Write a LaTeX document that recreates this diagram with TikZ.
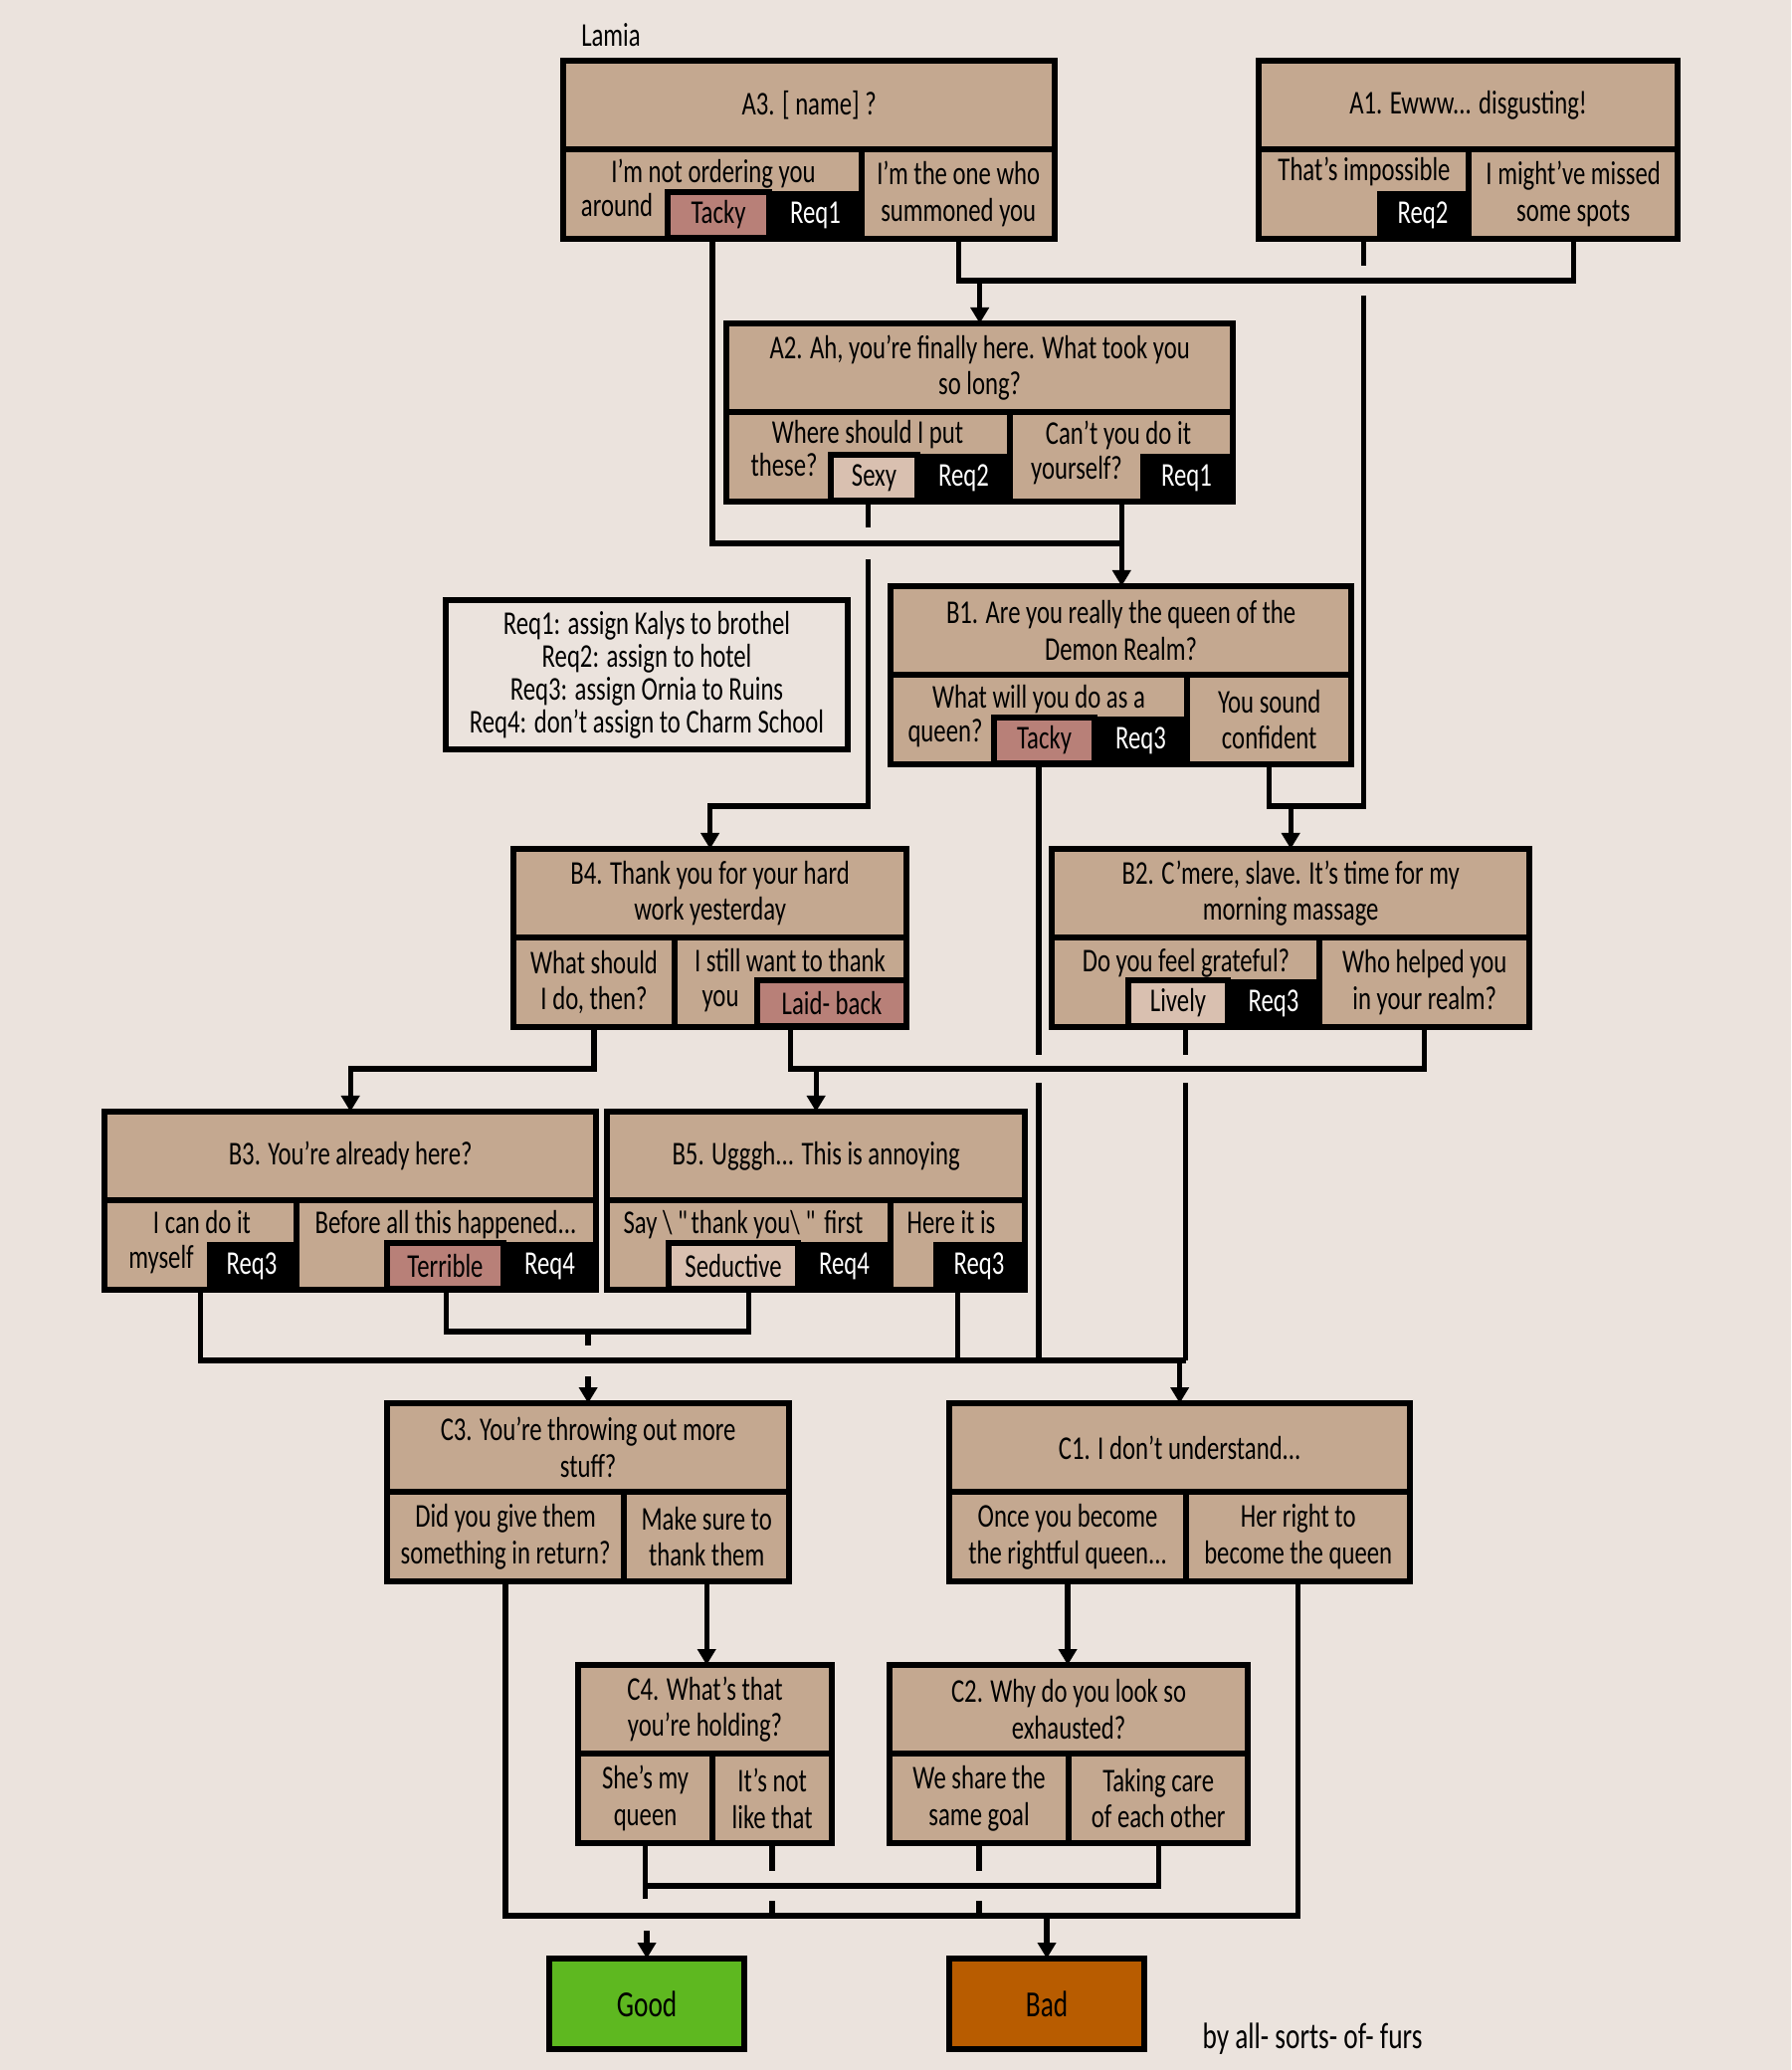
\documentclass[tikz,border=0pt]{standalone}
\usepackage{fontspec}
\setmainfont{Carlito}[FakeStretch=0.74]
\usepackage{tikz}
\usetikzlibrary{arrows.meta, positioning}
\definecolor{bg}{RGB}{235,227,221}
\definecolor{card}{RGB}{196,168,144}
\definecolor{rose}{RGB}{184,128,120}
\definecolor{blush}{RGB}{217,192,176}
\definecolor{goodgreen}{RGB}{94,184,32}
\definecolor{badorange}{RGB}{184,92,0}

\begin{document}
\begin{tikzpicture}[x=0.01cm, y=-0.01cm,
        font=\fontsize{9.5pt}{10.4pt}\selectfont,
        question/.style={draw, fill=card, line width=1.7pt, outer sep=0pt, inner sep=0pt, anchor=north west, align=center, minimum height=0.89cm},
        answer/.style={draw, fill=card, line width=1.7pt, outer sep=0pt, inner sep=0pt, align=center, minimum height=0.90cm},
        mood/.style={draw, line width=1.7pt, outer sep=0pt, inner sep=0pt, minimum height=0.46cm},
        req/.style={fill=black, text=white, outer sep=0pt, inner sep=0pt, minimum height=0.48cm},
        words/.style={inner sep=0pt, anchor=base},
        ending/.style={draw, line width=1.7pt, outer sep=0pt, anchor=north west, minimum width=1.96cm, minimum height=0.91cm, font=\fontsize{10.5pt}{11pt}\selectfont},
        legend/.style={draw, fill=bg, line width=1.7pt, outer sep=0pt, inner sep=0pt, align=center, minimum width=4.04cm, minimum height=1.50cm, font=\fontsize{9.5pt}{9.4pt}\selectfont},
        link/.style={line width=1.5pt},
        arrow/.style={link, -{Triangle[length=0.16cm, width=0.18cm]}}
    ]
        \path[use as bounding box, fill=bg] (0,0) rectangle (1800,2080);

        \node[words] (title) at (614,47) {Lamia};

        % A row
        \node[question, minimum width=4.94cm] (a3) at (566,61) {A3. [\,name]\,?};
        \node[answer, minimum width=3.00cm, below right=0pt and 0pt of a3.south west] (a3o1) {};
        \node[answer, minimum width=1.94cm, right=0pt of a3o1] (a3o2) {I'm the one who\\summoned you};
        \node[mood, fill=rose, minimum width=1.02cm] (a3tacky) at (722,216) {Tacky};
        \node[req, minimum width=0.93cm] (a3req) at (819.5,216) {Req1};
        \node[words] (a3t1) at (717,184) {I'm not ordering you};
        \node[words] (a3t2) at (620,218) {around};

        \node[question, minimum width=4.21cm] (a1) at (1265,61) {A1. Ewww... disgusting!};
        \node[answer, minimum width=2.11cm, below right=0pt and 0pt of a1.south west] (a1o1) {};
        \node[answer, minimum width=2.10cm, right=0pt of a1o1] (a1o2) {I might've missed\\some spots};
        \node[req, minimum width=0.92cm] (a1req) at (1430,216) {Req2};
        \node[words] (a1t1) at (1371,182) {That's impossible};

        \node[question, minimum width=5.09cm] (a2) at (730,325) {A2. Ah, you're finally here. What took you\\so long?};
        \node[answer, minimum width=2.85cm, below right=0pt and 0pt of a2.south west] (a2o1) {};
        \node[answer, minimum width=2.24cm, right=0pt of a2o1] (a2o2) {};
        \node[mood, fill=blush, minimum width=0.87cm] (a2sexy) at (878.5,480) {Sexy};
        \node[req, minimum width=0.93cm] (a2req) at (968.5,480) {Req2};
        \node[req, minimum width=0.93cm] (a2req1) at (1192.5,480) {Req1};
        \node[words] (a2t1) at (872,446) {Where should I put};
        \node[words] (a2t2) at (788,479) {these?};
        \node[words] (a2t3) at (1124,447) {Can't you do it};
        \node[words] (a2t4) at (1082,482) {yourself?};

        % B row
        \node[question, minimum width=4.63cm] (b1) at (895,589) {B1. Are you really the queen of the\\Demon Realm?};
        \node[answer, minimum width=2.98cm, below right=0pt and 0pt of b1.south west] (b1o1) {};
        \node[answer, minimum width=1.65cm, right=0pt of b1o1] (b1o2) {You sound\\confident};
        \node[mood, fill=rose, minimum width=1.01cm] (b1tacky) at (1049.5,744) {Tacky};
        \node[req, minimum width=0.93cm] (b1req) at (1146.5,744) {Req3};
        \node[words] (b1t1) at (1044,712) {What will you do as a};
        \node[words] (b1t2) at (950,746) {queen?};

        \node[legend] (key) at (650,678) {Req1: assign Kalys to brothel\\Req2: assign to hotel\\Req3: assign Ornia to Ruins\\Req4: don't assign to Charm School};

        \node[question, minimum width=4.80cm] (b2) at (1057,853) {B2. C'mere, slave. It's time for my\\morning massage};
        \node[answer, minimum width=2.69cm, below right=0pt and 0pt of b2.south west] (b2o1) {};
        \node[answer, minimum width=2.11cm, right=0pt of b2o1] (b2o2) {Who helped you\\in your realm?};
        \node[mood, fill=blush, minimum width=1.00cm] (b2lively) at (1184,1008) {Lively};
        \node[req, minimum width=0.92cm] (b2req) at (1280,1008) {Req3};
        \node[words] (b2t1) at (1192,976) {Do you feel grateful?};

        \node[question, minimum width=3.95cm] (b4) at (516,853) {B4. Thank you for your hard\\work yesterday};
        \node[answer, minimum width=1.62cm, below right=0pt and 0pt of b4.south west] (b4o1) {What should\\I do, then?};
        \node[answer, minimum width=2.33cm, right=0pt of b4o1] (b4o2) {};
        \node[mood, fill=rose, minimum width=1.50cm] (b4laid) at (836,1008) {Laid- back};
        \node[words] (b4t1) at (794,976) {I still want to thank};
        \node[words] (b4t2) at (724,1011) {you};

        \node[question, minimum width=4.94cm] (b3) at (105,1117) {B3. You're already here?};
        \node[answer, minimum width=1.93cm, below right=0pt and 0pt of b3.south west] (b3o1) {};
        \node[answer, minimum width=3.01cm, right=0pt of b3o1] (b3o2) {};
        \node[req, minimum width=0.90cm] (b3req) at (253,1272) {Req3};
        \node[mood, fill=rose, minimum width=1.17cm] (b3terrible) at (447.5,1272) {Terrible};
        \node[req, minimum width=0.93cm] (b3req4) at (552.5,1272) {Req4};
        \node[words] (b3t1) at (203,1239) {I can do it};
        \node[words] (b3t2) at (162,1274) {myself};
        \node[words] (b3t3) at (448,1239) {Before all this happened...};

        \node[question, minimum width=4.20cm] (b5) at (610,1117) {B5. Ugggh... This is annoying};
        \node[answer, minimum width=2.85cm, below right=0pt and 0pt of b5.south west] (b5o1) {};
        \node[answer, minimum width=1.35cm, right=0pt of b5o1] (b5o2) {};
        \node[mood, fill=blush, minimum width=1.30cm] (b5seductive) at (737,1272) {Seductive};
        \node[req, minimum width=0.93cm] (b5req4) at (848.5,1272) {Req4};
        \node[req, minimum width=0.92cm] (b5req3) at (984,1272) {Req3};
        \node[words] (b5t1) at (747,1239) {Say\,\textbackslash\,\textquotedbl thank you\textbackslash\,\textquotedbl\ first};
        \node[words] (b5t2) at (956,1239) {Here it is};

        % C row
        \node[question, minimum width=4.04cm] (c3) at (389,1410) {C3. You're throwing out more\\stuff?};
        \node[answer, minimum width=2.38cm, below right=0pt and 0pt of c3.south west] (c3o1) {Did you give them\\something in return?};
        \node[answer, minimum width=1.66cm, right=0pt of c3o1] (c3o2) {Make sure to\\thank them};

        \node[question, minimum width=4.63cm] (c1) at (954,1410) {C1. I don't understand...};
        \node[answer, minimum width=2.38cm, below right=0pt and 0pt of c1.south west] (c1o1) {Once you become\\the rightful queen...};
        \node[answer, minimum width=2.25cm, right=0pt of c1o1] (c1o2) {Her right to\\become the queen};

        \node[question, minimum width=2.55cm] (c4) at (581,1673) {C4. What's that\\you're holding?};
        \node[answer, minimum width=1.35cm, below right=0pt and 0pt of c4.south west] (c4o1) {She's my\\queen};
        \node[answer, minimum width=1.20cm, right=0pt of c4o1] (c4o2) {It's not\\like that};

        \node[question, minimum width=3.60cm] (c2) at (894,1673) {C2. Why do you look so\\exhausted?};
        \node[answer, minimum width=1.80cm, below right=0pt and 0pt of c2.south west] (c2o1) {We share the\\same goal};
        \node[answer, minimum width=1.80cm, right=0pt of c2o1] (c2o2) {Taking care\\of each other};

        % endings
        \node[ending, fill=goodgreen] (good) at (552,1968) {Good};
        \node[ending, fill=badorange] (bad) at (954,1968) {Bad};
        \node[words, font=\fontsize{10.5pt}{11pt}\selectfont] (credit) at (1319,2058) {by all- sorts- of- furs};

        \coordinate (busa) at (0,282);
        \coordinate (busc) at (0,546);
        \coordinate (busb) at (0,810);
        \coordinate (busd) at (0,1074);
        \coordinate (busf) at (0,1338);
        \coordinate (buse) at (0,1367);
        \coordinate (busg) at (0,1895);
        \coordinate (bush) at (0,1925);

        % A links
        \draw[link] (a3o2.south) |- (a1o2.south |- busa) -- (a1o2.south);
        \draw[arrow] (a2.north |- busa) -- (a2.north);
        \draw[link] (a1o1.south) -- (a1o1.south |- 0,267);
        \draw[link] (a1o1.south |- 0,297) |- (b1o2.south |- busb) -- (b1o2.south);
        \draw[arrow] (b2.north |- busb) -- (b2.north);
        \draw[link] (a3o1.south) |- (a2o2.south |- busc);
        \draw[arrow] (a2o2.south) -- (a2o2.south |- b1.north);
        \draw[link] (a2o1.south) -- (a2o1.south |- 0,530);
        \draw[arrow] (a2o1.south |- 0,562) |- (b4.north |- busb) -- (b4.north);

        % B links
        \draw[arrow] (b4o1.south) |- (b3.north |- busd) -- (b3.north);
        \draw[link] (b4o2.south) |- (b2o2.south |- busd) -- (b2o2.south);
        \draw[arrow] (b5.north |- busd) -- (b5.north);
        \draw[link] (b1o1.south) -- (b1o1.south |- 0,1060);
        \draw[link] (b1o1.south |- 0,1088) -- (b1o1.south |- buse);
        \draw[link] (b2o1.south) -- (b2o1.south |- 0,1060);
        \draw[link] (b2o1.south |- 0,1088) -- (b2o1.south |- buse);
        \draw[link] (b3o1.south) |- (b2o1.south |- buse);
        \draw[link] (b5o2.south) -- (b5o2.south |- buse);
        \draw[arrow] (c1.north |- buse) -- (c1.north);
        \draw[link] (b3o2.south) |- (b5o1.south |- busf) -- (b5o1.south);
        \draw[link] (c3.north |- busf) -- (c3.north |- 0,1352);
        \draw[arrow] (c3.north |- 0,1383) -- (c3.north);

        % C links
        \draw[arrow] (c3o2.south) -- (c3o2.south |- c4.north);
        \draw[arrow] (c1o1.south) -- (c1o1.south |- c2.north);
        \draw[link] (c4o1.south) -- (c4o1.south |- 0,1908);
        \draw[link] (c4o1.south |- busg) -| (c2o2.south);
        \draw[arrow] (good.north |- 0,1940) -- (good.north);
        \draw[link] (c3o1.south) |- (c1o2.south |- bush) -- (c1o2.south);
        \draw[link] (c4o2.south) -- (c4o2.south |- 0,1880);
        \draw[link] (c4o2.south |- 0,1910) -- (c4o2.south |- bush);
        \draw[link] (c2o1.south) -- (c2o1.south |- 0,1880);
        \draw[link] (c2o1.south |- 0,1910) -- (c2o1.south |- bush);
        \draw[arrow] (bad.north |- bush) -- (bad.north);
    \end{tikzpicture}
\end{document}
